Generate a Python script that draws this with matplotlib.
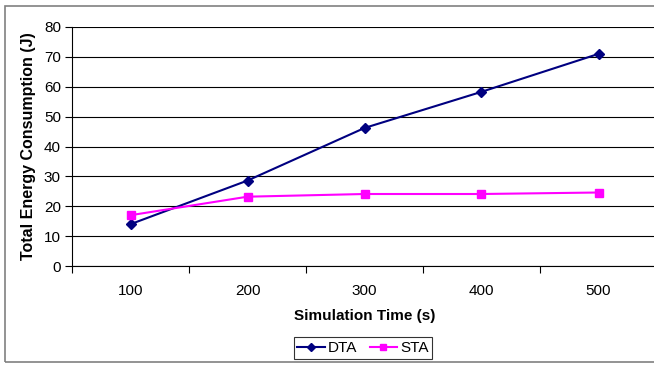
import matplotlib.pyplot as plt
from matplotlib.patches import Rectangle
import numpy as np

plt.rcParams['font.family'] = ['Liberation Sans', 'DejaVu Sans']

sim_time = ["100", "200", "300", "400", "500"]
dta = [14.0, 28.6, 46.2, 58.3, 71.0]
sta = [17.0, 23.2, 24.1, 24.1, 24.6]

W, H = 654, 365
fig = plt.figure(figsize=(W / 100, H / 100), dpi=100)

# outer chart border
fig.patches.append(Rectangle((5 / W, 3 / H), 1.2, (359 - 3) / H, transform=fig.transFigure,
                             fill=False, edgecolor='#808080', lw=1.2))

ax = fig.add_axes([72 / W, (H - 266) / H, (657 - 72) / W, (266 - 27) / H])
x = np.arange(len(sim_time))

ax.plot(x, dta, color='#000080', marker='D', markersize=5, lw=1.5, label='DTA')
ax.plot(x, sta, color='#FF00FF', marker='s', markersize=6, lw=1.5, label='STA')

ax.set_xlim(-0.5, len(sim_time) - 0.5)
ax.set_ylim(0, 80)
ax.set_yticks(np.arange(0, 81, 10))
ax.yaxis.grid(True, color='black', lw=0.8)
ax.set_axisbelow(True)

ax.set_xticks(x)
ax.set_xticklabels(sim_time)
ax.set_xticks(np.arange(-0.5, len(sim_time)), minor=True)
ax.tick_params(axis='x', which='major', length=0, pad=13, labelsize=11)
ax.tick_params(axis='x', which='minor', length=5, width=0.8, direction='out')
ax.tick_params(axis='y', length=5, width=0.8, direction='out', labelsize=11, pad=3)

for s in ['top', 'right']:
    ax.spines[s].set_visible(False)
for s in ['left', 'bottom']:
    ax.spines[s].set_linewidth(0.8)

ax.set_xlabel('Simulation Time (s)', fontsize=11, fontweight='bold', labelpad=8)
ax.set_ylabel('Total Energy Consumption (J)', fontsize=11.5, fontweight='bold', labelpad=6)

leg = fig.legend(loc='center', bbox_to_anchor=(363 / W, (H - 348) / H), ncol=2,
                 fontsize=11, frameon=True, fancybox=False, edgecolor='black',
                 handlelength=1.8, handletextpad=0.2, columnspacing=0.8,
                 borderpad=0.25, markerscale=0.8)
leg.get_frame().set_linewidth(0.8)

fig.savefig('out.png', dpi=100)
